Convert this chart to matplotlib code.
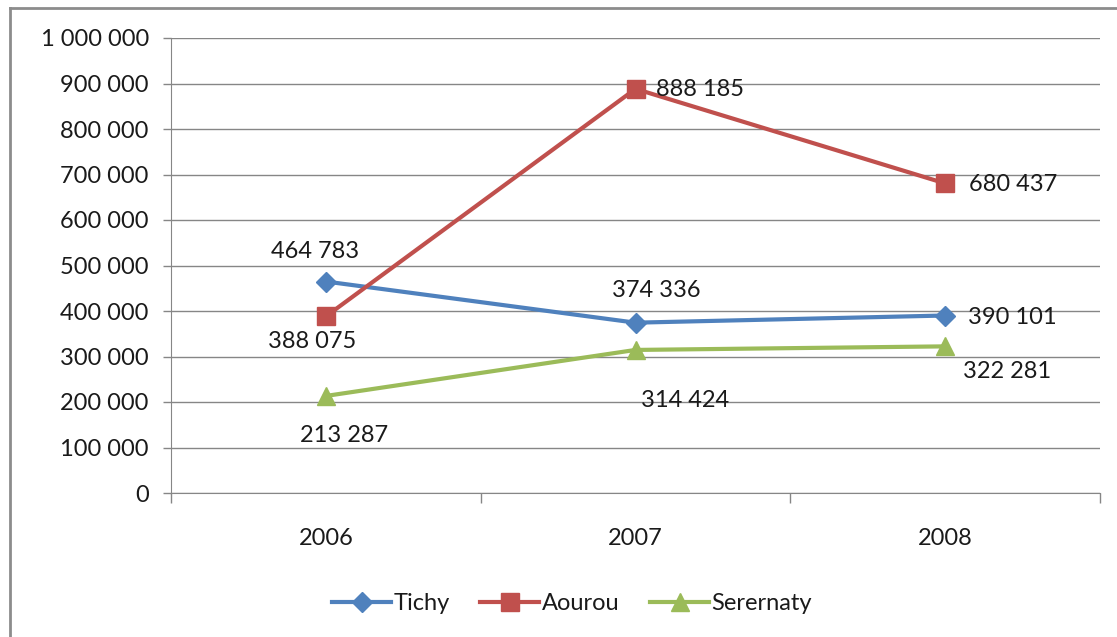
import matplotlib
matplotlib.use('Agg')
import matplotlib.pyplot as plt
import matplotlib.ticker as ticker
from matplotlib.lines import Line2D

plt.rcParams['font.family'] = ['Lato', 'DejaVu Sans']

years = ['2006', '2007', '2008']
tichy = [464783, 374336, 390101]
aourou = [388075, 888185, 680437]
serernaty = [213287, 314424, 322281]

FS = 17

def fmt(v):
    return '{:,}'.format(int(v)).replace(',', ' ')

fig = plt.figure(figsize=(11.17, 6.37), dpi=100)
ax = fig.add_axes([171/1117, 1 - 493/637, 929/1117, 455/637])

x = range(len(years))
series = [
    ('Tichy', tichy, '#4F81BD', 'D', 10),
    ('Aourou', aourou, '#C0504D', 's', 13),
    ('Serernaty', serernaty, '#9BBB59', '^', 13),
]
for name, vals, col, mk, ms in series:
    ax.plot(x, vals, color=col, lw=3, marker=mk, ms=ms, label=name, zorder=3)

# label offsets in pixels (dx, dy, ha)
offsets = {
    'Tichy': [(-11, 30, 'center'), (21, 32, 'center'), (23, -2, 'left')],
    'Aourou': [(-14, -25, 'center'), (20, -1, 'left'), (24, -1, 'left')],
    'Serernaty': [(18, -40, 'center'), (50, -51, 'center'), (18, -25, 'left')],
}
for name, vals, col, mk, ms in series:
    for i, v in enumerate(vals):
        dx, dy, ha = offsets[name][i]
        ax.annotate(fmt(v), (i, v), xytext=(dx, dy), textcoords='offset pixels',
                    ha=ha, va='center', fontsize=FS, color='#1a1a1a')

ax.set_xlim(-0.5, 2.5)
ax.set_ylim(0, 1000000)
ax.yaxis.set_major_locator(ticker.MultipleLocator(100000))
ax.yaxis.set_major_formatter(ticker.FuncFormatter(lambda v, p: fmt(v)))
ax.grid(axis='y', color='#868686', lw=1)
ax.set_axisbelow(True)

ax.set_xticks(list(x))
ax.set_xticklabels(years)
ax.set_xticks([-0.5, 0.5, 1.5, 2.5], minor=True)
ax.tick_params(axis='x', which='major', length=0, pad=25, labelsize=FS, labelcolor='#1a1a1a')
ax.tick_params(axis='x', which='minor', length=7, color='#868686', width=1)
ax.tick_params(axis='y', length=6, color='#868686', width=1, labelsize=FS, labelcolor='#1a1a1a', pad=10)

for s in ['top', 'right']:
    ax.spines[s].set_visible(False)
ax.spines['left'].set_color('#868686')
ax.spines['bottom'].set_color('#868686')

ax.legend(loc='center', bbox_to_anchor=(572/1117, 1 - 604/637), bbox_transform=fig.transFigure,
          ncol=3, frameon=False, fontsize=FS, handlelength=2.5, columnspacing=1.3,
          handletextpad=0.1, labelcolor='#1a1a1a')

# outer chart border (cropped at right and bottom)
fig.add_artist(Line2D([10/1117, 10/1117], [0, 1 - 8/637], transform=fig.transFigure,
                      color='#8c8c8c', lw=2))
fig.add_artist(Line2D([10/1117, 1], [1 - 8/637, 1 - 8/637], transform=fig.transFigure,
                      color='#8c8c8c', lw=2))

fig.savefig('out.png', dpi=100)
